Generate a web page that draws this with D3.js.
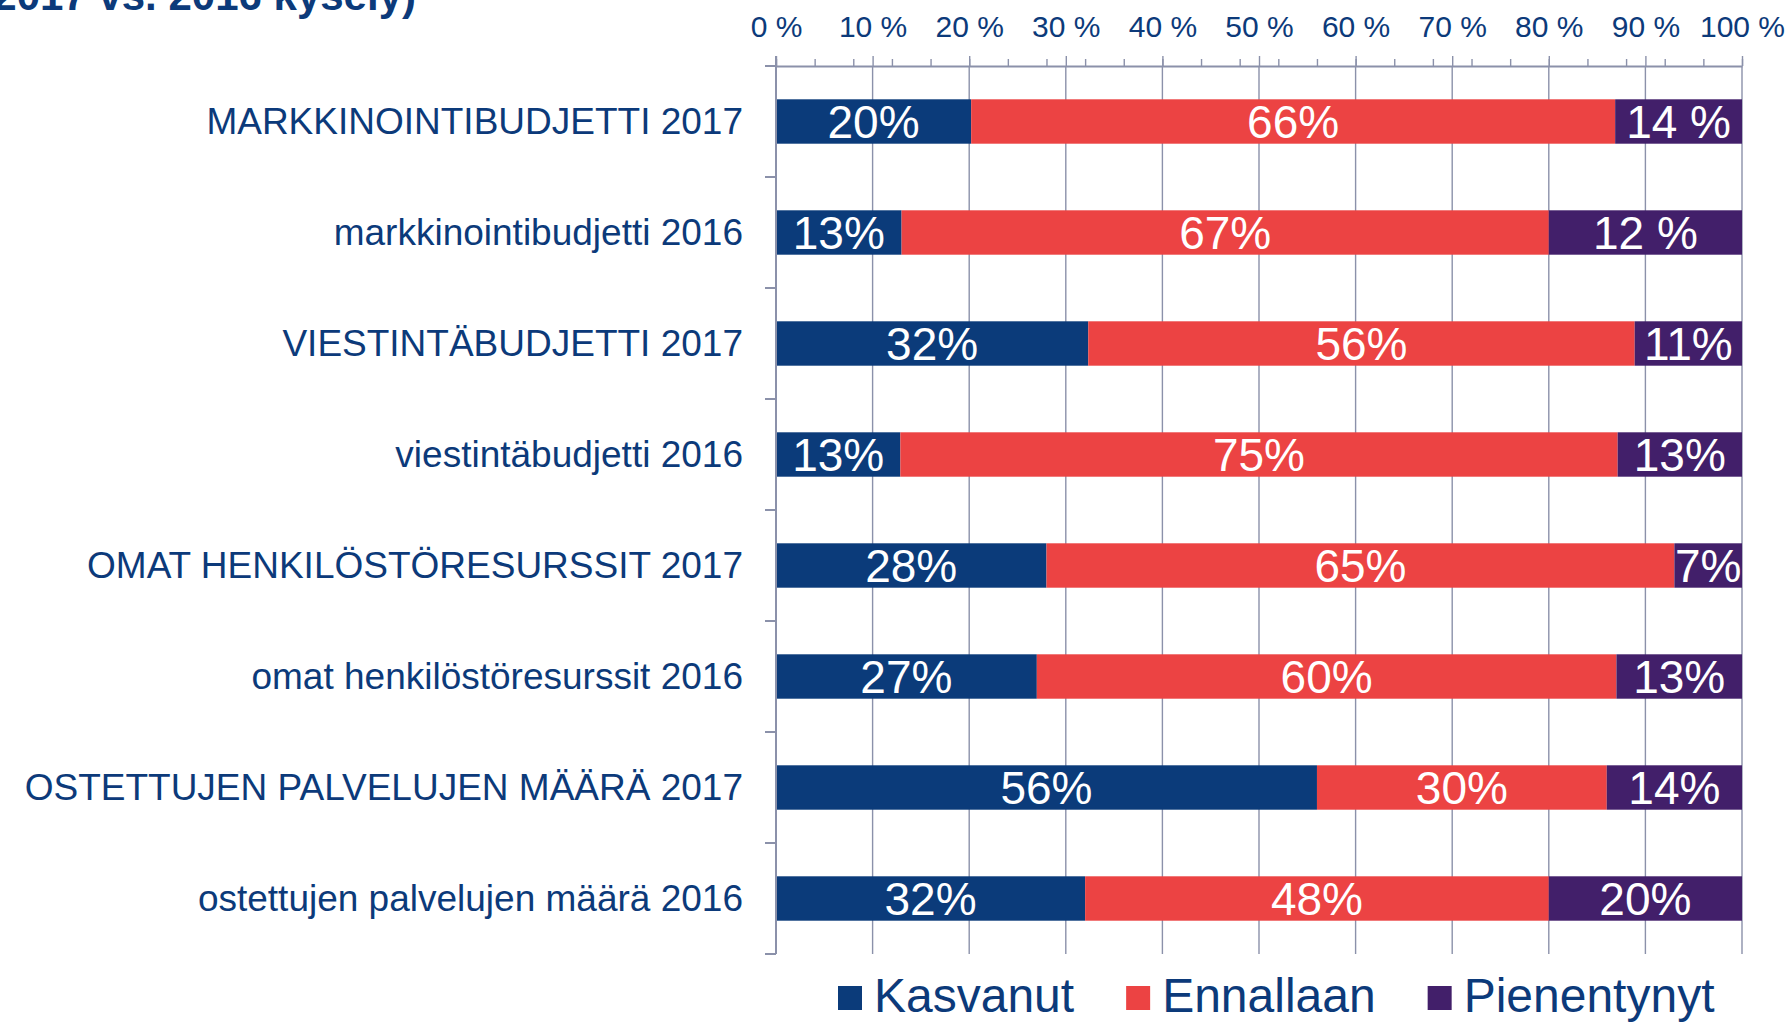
<!DOCTYPE html>
<html>
<head>
<meta charset="utf-8">
<script src="https://cdn.jsdelivr.net/npm/d3@7"></script>
<style>
  html, body { margin: 0; padding: 0; background: #ffffff; }
  svg { display: block; }
  text { font-family: Arial, "Liberation Sans", sans-serif; }
</style>
</head>
<body>
<svg id="chart" width="1791" height="1023"></svg>
<script>
// ---- Data ----
const categories = [
  "MARKKINOINTIBUDJETTI 2017",
  "markkinointibudjetti 2016",
  "VIESTINTÄBUDJETTI 2017",
  "viestintäbudjetti 2016",
  "OMAT HENKILÖSTÖRESURSSIT 2017",
  "omat henkilöstöresurssit 2016",
  "OSTETTUJEN PALVELUJEN MÄÄRÄ 2017",
  "ostettujen palvelujen määrä 2016"
];
const seriesNames = ["Kasvanut", "Ennallaan", "Pienentynyt"];
const kasvanut    = [20, 13, 32, 13, 28, 27, 56, 32];
const ennallaan   = [66, 67, 56, 75, 65, 60, 30, 48];
const pienentynyt = [13, 20, 11, 13, 7, 13, 14, 20];
// data labels as printed in the chart
const kasvanutLabels    = ["20%", "13%", "32%", "13%", "28%", "27%", "56%", "32%"];
const ennallaanLabels   = ["66%", "67%", "56%", "75%", "65%", "60%", "30%", "48%"];
const pienentynytLabels = ["14 %", "12 %", "11%", "13%", "7%", "13%", "14%", "20%"];
const majorTicks = [0, 0.1, 0.2, 0.3, 0.4, 0.5, 0.6, 0.7, 0.8, 0.9, 1.0];
const tickLabels = ["0 %", "10 %", "20 %", "30 %", "40 %", "50 %", "60 %", "70 %", "80 %", "90 %", "100 %"];
const minorTicks = [0, 0.04, 0.08, 0.12, 0.16, 0.20, 0.24, 0.28, 0.32, 0.36, 0.40, 0.44, 0.48,
                    0.52, 0.56, 0.60, 0.64, 0.68, 0.72, 0.76, 0.80, 0.84, 0.88, 0.92, 0.96, 1.0];
const titleTail = "(2017 vs. 2016 kysely)";

// ---- Styles ----
const colors = { Kasvanut: "#0b3b7a", Ennallaan: "#ec4343", Pienentynyt: "#421f6a" };
const textColor = "#0c3a7a";
const gridColor = "#8b91aa";

const svg = d3.select("#chart");
svg.append("rect").attr("width", 1791).attr("height", 1023).attr("fill", "#ffffff");

const plotLeft = 776, plotRight = 1742, plotTop = 66, plotBottom = 954;

const x = d3.scaleLinear().domain([0, 1]).range([plotLeft, plotRight]);
const y = d3.scaleBand().domain(categories).range([plotTop, plotBottom])
  .paddingInner(0.6).paddingOuter(0.3);

const rows = categories.map((c, i) => ({
  cat: c,
  Kasvanut: kasvanut[i], Ennallaan: ennallaan[i], Pienentynyt: pienentynyt[i],
  labels: { Kasvanut: kasvanutLabels[i], Ennallaan: ennallaanLabels[i], Pienentynyt: pienentynytLabels[i] }
}));
const stacked = d3.stack().keys(seriesNames).offset(d3.stackOffsetExpand)(rows);

// title fragment (cut off at the top edge, as in the original)
svg.append("text")
  .attr("x", 416).attr("y", 10)
  .attr("text-anchor", "end")
  .attr("font-size", 42).attr("font-weight", "bold")
  .attr("fill", textColor)
  .text(titleTail);

// gridlines
svg.append("g").selectAll("line")
  .data(majorTicks.slice(1))
  .join("line")
  .attr("x1", d => x(d)).attr("x2", d => x(d))
  .attr("y1", plotTop).attr("y2", plotBottom)
  .attr("stroke", gridColor).attr("stroke-width", 1.4);

// minor ticks on top axis
const minorAxis = d3.axisTop(x).tickValues(minorTicks).tickSize(7).tickSizeOuter(0).tickFormat("");
const gMinor = svg.append("g").attr("transform", `translate(0,${plotTop})`).call(minorAxis);
gMinor.select(".domain").remove();
gMinor.selectAll(".tick line").attr("stroke", gridColor).attr("stroke-width", 1.4);

// major top axis
const topAxis = d3.axisTop(x).tickValues(majorTicks).tickSize(10).tickSizeOuter(0)
  .tickPadding(19).tickFormat((d, i) => tickLabels[i]);
const gTop = svg.append("g").attr("transform", `translate(0,${plotTop})`).call(topAxis);
gTop.select(".domain").attr("stroke", gridColor).attr("stroke-width", 2);
gTop.selectAll(".tick line").attr("stroke", gridColor).attr("stroke-width", 1.4);
gTop.selectAll(".tick text")
  .attr("fill", textColor).attr("font-size", 30)
  .attr("font-family", 'Arial, "Liberation Sans", sans-serif');

// bars
const segs = svg.append("g").selectAll("g")
  .data(stacked)
  .join("g")
  .attr("fill", d => colors[d.key]);

segs.selectAll("rect")
  .data(d => d.map(v => ({ key: d.key, v })))
  .join("rect")
  .attr("x", d => x(d.v[0]))
  .attr("width", d => x(d.v[1]) - x(d.v[0]))
  .attr("y", d => y(d.v.data.cat))
  .attr("height", y.bandwidth());

// bar labels
svg.append("g").selectAll("g")
  .data(stacked)
  .join("g")
  .selectAll("text")
  .data(d => d.map(v => ({ key: d.key, v })))
  .join("text")
  .attr("x", d => (x(d.v[0]) + x(d.v[1])) / 2)
  .attr("y", d => y(d.v.data.cat) + y.bandwidth() / 2)
  .attr("dy", "0.36em")
  .attr("text-anchor", "middle")
  .attr("font-size", 46)
  .attr("fill", "#ffffff")
  .text(d => d.v.data.labels[d.key]);

// left category axis
const leftAxis = d3.axisLeft(y).tickSize(0).tickPadding(33);
const gLeft = svg.append("g").attr("transform", `translate(${plotLeft},0)`).call(leftAxis);
gLeft.select(".domain").remove();
gLeft.selectAll(".tick text")
  .attr("fill", textColor).attr("font-size", 37).attr("dy", "0.33em")
  .attr("font-family", 'Arial, "Liberation Sans", sans-serif');

svg.append("line")
  .attr("x1", plotLeft).attr("x2", plotLeft)
  .attr("y1", plotTop - 10).attr("y2", plotBottom)
  .attr("stroke", gridColor).attr("stroke-width", 2);

// band boundary stubs
const boundaries = categories.map(c => y(c) + y.bandwidth() / 2 - y.step() / 2);
boundaries.push(boundaries[boundaries.length - 1] + y.step());
svg.append("g").selectAll("line")
  .data(boundaries)
  .join("line")
  .attr("x1", plotLeft - 11).attr("x2", plotLeft)
  .attr("y1", d => d).attr("y2", d => d)
  .attr("stroke", gridColor).attr("stroke-width", 2);

// legend
const legend = svg.append("g");
let lx = 838;
seriesNames.forEach(name => {
  legend.append("rect")
    .attr("x", lx).attr("y", 986).attr("width", 24).attr("height", 24)
    .attr("fill", colors[name]);
  const t = legend.append("text")
    .attr("x", lx + 36).attr("y", 1012)
    .attr("font-size", 48).attr("fill", textColor)
    .text(name);
  lx += 36 + t.node().getComputedTextLength() + 52;
});
</script>
</body>
</html>
